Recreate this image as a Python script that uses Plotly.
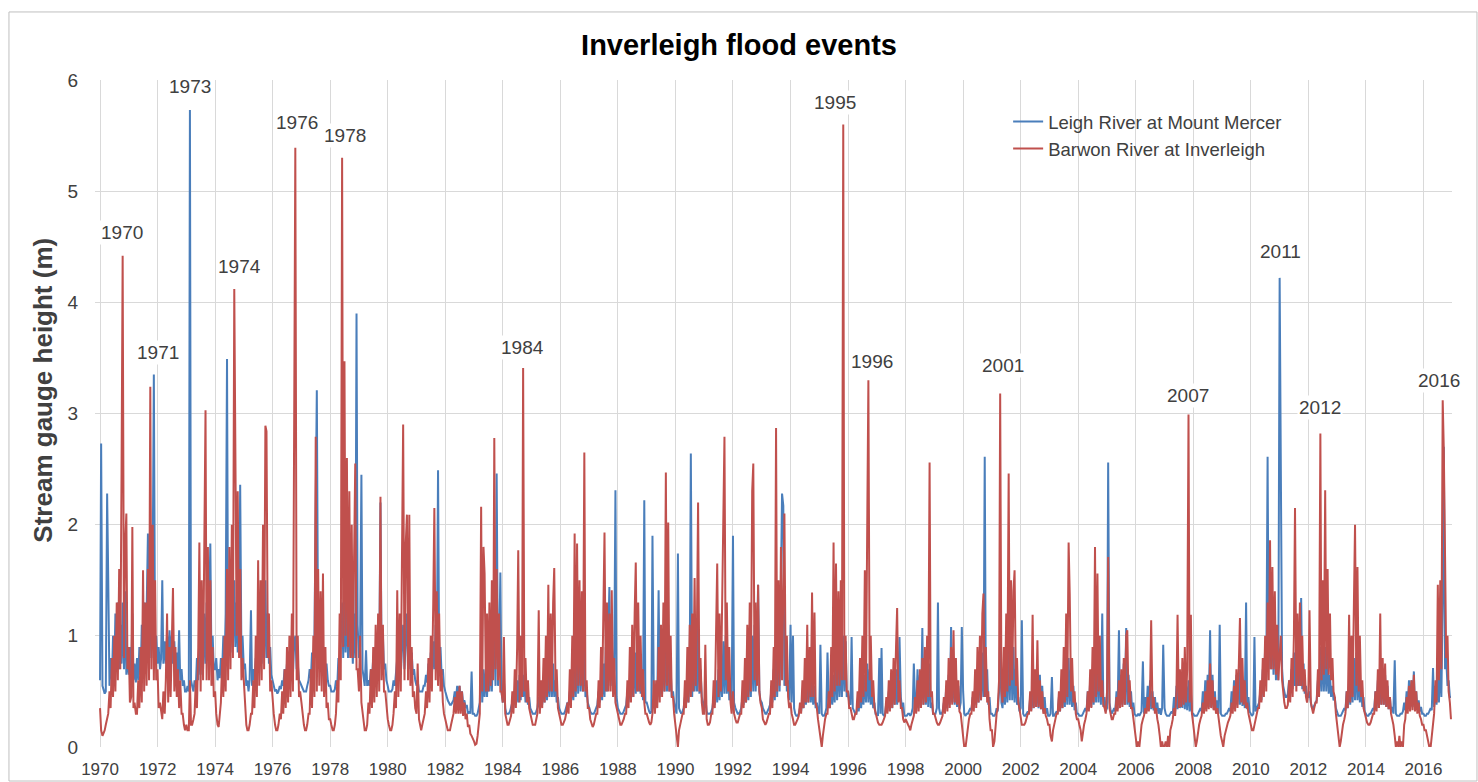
import pandas as pd
import plotly.graph_objects as go

# ---- Leigh River at Mount Mercer (m), 24 half-monthly readings per year ----
leigh_1970s = [
    [0.6, 2.73, 0.55, 0.5, 0.48, 0.5, 2.28, 1.52, 0.55, 0.8, 0.6, 1.0, 0.65, 1.2, 0.7, 1.3, 0.7, 1.1, 0.75, 1.3, 0.7, 1.4, 0.65, 0.8],
    [0.65, 0.9, 0.6, 1.2, 0.6, 0.75, 0.58, 0.8, 0.6, 0.9, 0.65, 1.1, 0.7, 1.3, 0.75, 1.2, 1.92, 0.8, 1.6, 0.8, 1.7, 3.35, 0.8, 1.0],
    [0.75, 0.9, 0.7, 0.8, 1.5, 0.75, 0.95, 0.75, 1.0, 0.8, 1.05, 0.8, 1.0, 0.75, 0.95, 0.7, 0.85, 0.65, 1.05, 0.6, 0.7, 0.55, 0.6, 0.5],
    [0.5, 0.55, 0.5, 5.73, 0.6, 0.55, 0.5, 0.6, 0.55, 0.8, 0.6, 1.0, 0.65, 1.1, 0.7, 1.2, 0.75, 1.3, 0.8, 1.1, 1.83, 0.8, 1.0, 0.7],
    [0.7, 0.8, 0.6, 0.7, 0.62, 0.8, 0.7, 1.0, 0.75, 1.2, 3.49, 0.8, 1.3, 0.85, 1.4, 0.9, 1.5, 0.9, 1.3, 0.85, 1.2, 2.36, 0.8, 1.0],
    [0.7, 0.75, 0.55, 0.6, 0.5, 0.6, 1.23, 0.55, 0.7, 0.6, 0.8, 0.65, 0.9, 0.7, 1.0, 0.75, 1.1, 0.8, 1.5, 0.8, 1.2, 0.75, 0.9, 0.65],
    [0.6, 0.55, 0.5, 0.52, 0.48, 0.5, 0.55, 0.52, 0.6, 0.55, 0.7, 0.58, 0.75, 0.6, 0.8, 0.62, 0.85, 0.65, 0.95, 1.0, 0.7, 0.75, 0.6, 0.58],
    [0.55, 0.52, 0.5, 0.5, 0.5, 0.55, 0.6, 0.7, 0.62, 0.85, 0.65, 1.0, 2.6, 3.21, 0.8, 1.1, 0.75, 1.0, 0.8, 0.9, 0.7, 0.75, 0.6, 0.55],
    [0.55, 0.5, 0.5, 0.5, 0.52, 0.6, 0.55, 0.8, 0.65, 1.0, 1.3, 0.8, 1.4, 0.85, 1.3, 0.8, 1.2, 0.8, 1.1, 0.75, 1.2, 0.8, 3.9, 1.1],
    [0.8, 0.9, 2.45, 0.7, 0.6, 0.55, 0.87, 0.55, 0.6, 0.55, 0.7, 0.6, 0.8, 0.62, 0.9, 0.65, 1.0, 0.7, 2.2, 0.75, 1.0, 0.7, 0.75, 0.6],
]
leigh_1980s = [
    [0.55, 0.5, 0.5, 0.5, 0.52, 0.6, 0.55, 0.7, 0.8, 0.6, 0.9, 0.65, 1.0, 1.1, 0.7, 1.0, 1.2, 0.7, 1.0, 0.7, 0.85, 0.65, 0.7, 0.6],
    [0.55, 0.6, 0.5, 0.5, 0.5, 0.5, 0.55, 0.55, 0.65, 0.58, 0.75, 0.6, 0.85, 0.65, 0.95, 0.7, 1.1, 0.75, 2.49, 0.8, 0.9, 0.65, 0.7, 0.55],
    [0.5, 0.45, 0.42, 0.4, 0.38, 0.38, 0.4, 0.42, 0.5, 0.42, 0.55, 0.45, 0.55, 0.42, 0.5, 0.4, 0.42, 0.35, 0.38, 0.3, 0.32, 0.3, 0.68, 0.3],
    [0.3, 0.28, 0.28, 0.3, 0.35, 0.4, 0.9, 0.4, 0.7, 0.45, 0.7, 0.45, 0.8, 0.5, 0.85, 0.5, 0.9, 1.0, 0.55, 2.46, 0.55, 0.8, 1.57, 0.5],
    [0.4, 0.6, 0.35, 0.3, 0.3, 0.3, 0.32, 0.35, 0.4, 0.35, 0.5, 0.38, 0.6, 0.4, 0.65, 0.42, 0.7, 0.45, 0.65, 0.4, 0.55, 0.38, 0.45, 0.35],
    [0.32, 0.3, 0.3, 0.3, 0.32, 0.35, 0.45, 0.35, 0.5, 0.38, 0.6, 0.4, 0.7, 0.42, 0.75, 0.45, 0.8, 0.45, 0.75, 0.45, 0.6, 0.4, 0.45, 0.35],
    [0.32, 0.3, 0.3, 0.3, 0.32, 0.35, 0.4, 0.38, 0.5, 0.4, 0.6, 0.42, 0.8, 0.45, 0.85, 0.48, 1.0, 0.5, 0.9, 0.5, 0.9, 0.45, 0.5, 0.4],
    [0.35, 0.32, 0.3, 0.3, 0.3, 0.32, 0.35, 0.38, 0.5, 0.4, 0.6, 0.42, 0.75, 0.45, 0.9, 0.5, 1.0, 1.44, 0.55, 1.0, 0.5, 0.7, 2.31, 0.45],
    [0.35, 0.32, 0.3, 0.3, 0.3, 0.32, 0.35, 0.38, 0.5, 0.4, 0.6, 0.42, 0.7, 0.45, 0.85, 0.48, 1.0, 0.5, 0.9, 0.48, 0.7, 0.42, 2.22, 0.4],
    [0.4, 0.35, 0.32, 0.3, 0.32, 1.9, 0.45, 0.4, 0.55, 0.42, 1.41, 0.45, 0.75, 0.48, 0.9, 0.5, 1.0, 0.5, 1.1, 0.5, 0.7, 0.45, 0.5, 0.4],
]
leigh_1990s = [
    [0.35, 0.3, 1.74, 0.35, 0.32, 0.3, 0.32, 0.35, 0.45, 0.38, 0.55, 0.4, 0.7, 2.64, 0.45, 0.9, 0.5, 1.0, 0.5, 1.1, 0.48, 0.7, 0.45, 0.4],
    [0.35, 0.45, 0.32, 0.3, 0.3, 0.3, 0.32, 0.35, 0.45, 0.38, 0.6, 0.4, 0.7, 0.42, 0.8, 0.45, 0.95, 0.48, 1.0, 0.48, 0.75, 0.42, 0.5, 0.38],
    [1.9, 0.4, 0.35, 0.32, 0.3, 0.3, 0.32, 0.35, 0.45, 0.38, 0.55, 0.4, 0.7, 0.42, 0.85, 0.45, 1.0, 0.5, 1.1, 0.5, 0.9, 1.46, 0.5, 0.42],
    [0.4, 0.35, 0.32, 0.3, 0.3, 0.32, 0.35, 0.38, 0.5, 0.4, 0.7, 0.42, 1.0, 0.45, 1.1, 0.5, 1.3, 2.28, 2.17, 0.55, 0.9, 0.5, 0.6, 0.42],
    [1.1, 0.4, 1.0, 0.35, 0.3, 0.28, 0.28, 0.3, 0.35, 0.32, 0.45, 0.35, 0.55, 0.38, 0.65, 0.4, 0.7, 0.4, 0.65, 0.38, 0.55, 0.35, 0.4, 0.32],
    [0.3, 0.92, 0.3, 0.28, 0.28, 0.3, 0.35, 0.85, 0.4, 0.35, 0.55, 0.38, 0.65, 0.4, 0.8, 0.42, 0.85, 0.45, 0.9, 0.45, 1.0, 0.5, 0.95, 0.45],
    [0.5, 0.4, 0.38, 0.99, 0.35, 0.32, 0.3, 0.3, 0.38, 0.32, 0.45, 0.35, 0.55, 0.38, 0.65, 0.4, 0.75, 0.4, 0.7, 0.38, 0.5, 0.35, 0.4, 0.3],
    [0.3, 0.28, 0.8, 0.3, 0.89, 0.3, 0.28, 0.3, 0.4, 0.32, 0.5, 0.35, 0.6, 0.35, 0.65, 0.38, 0.7, 0.38, 0.6, 0.99, 0.45, 0.35, 0.4, 0.28],
    [0.28, 0.28, 0.3, 0.3, 0.28, 0.3, 0.35, 0.75, 0.4, 0.32, 0.7, 0.35, 0.65, 0.38, 1.07, 0.38, 0.8, 0.38, 0.7, 0.36, 0.75, 0.35, 0.4, 0.3],
    [0.3, 0.3, 0.35, 1.3, 0.35, 0.3, 0.3, 0.32, 0.4, 0.32, 0.55, 0.35, 0.65, 0.38, 1.08, 0.4, 0.7, 0.38, 0.65, 0.36, 0.55, 0.34, 0.4, 1.08],
]
leigh_2000s = [
    [0.5, 0.3, 0.28, 0.3, 0.3, 0.32, 0.35, 0.33, 0.45, 0.35, 0.55, 0.38, 0.7, 0.4, 0.78, 0.42, 0.85, 0.45, 2.61, 0.45, 0.7, 0.38, 0.45, 0.3],
    [0.3, 0.28, 0.28, 0.3, 0.35, 0.32, 0.5, 1.0, 0.4, 0.35, 0.6, 0.38, 0.75, 0.4, 0.9, 0.42, 1.0, 0.42, 0.9, 0.4, 0.7, 0.38, 0.45, 0.32],
    [0.35, 1.14, 0.3, 0.28, 0.28, 0.3, 0.32, 0.3, 0.45, 0.33, 0.55, 0.35, 0.65, 0.36, 0.6, 0.35, 0.65, 0.34, 0.55, 0.32, 0.45, 0.3, 0.35, 0.28],
    [0.28, 0.3, 0.63, 0.28, 0.28, 0.3, 0.32, 0.3, 0.45, 0.32, 0.55, 0.35, 0.65, 0.36, 0.7, 0.38, 0.8, 0.38, 0.7, 0.36, 0.55, 0.33, 0.4, 0.3],
    [0.3, 0.28, 0.28, 0.28, 0.3, 0.32, 0.35, 0.32, 0.5, 0.34, 0.6, 0.36, 0.7, 0.38, 0.8, 0.4, 0.85, 0.4, 0.9, 0.38, 1.2, 0.36, 0.45, 0.32],
    [0.35, 2.56, 0.4, 0.33, 0.3, 0.32, 0.35, 0.32, 0.5, 0.34, 1.05, 0.36, 0.65, 0.38, 0.75, 0.38, 1.07, 0.38, 0.65, 0.36, 0.5, 0.34, 0.4, 0.3],
    [0.28, 0.28, 0.3, 0.28, 0.3, 0.32, 0.77, 0.3, 0.45, 0.32, 0.55, 0.33, 0.6, 0.34, 0.5, 0.33, 0.45, 0.32, 0.4, 0.3, 0.35, 0.29, 0.35, 0.92],
    [0.35, 0.3, 0.28, 0.28, 0.28, 0.3, 0.32, 0.3, 0.45, 0.32, 0.55, 0.34, 0.65, 0.35, 0.65, 0.35, 0.7, 0.34, 0.55, 0.33, 0.6, 0.32, 0.5, 0.3],
    [0.3, 0.28, 0.28, 0.28, 0.3, 0.32, 0.35, 0.32, 0.5, 0.34, 0.6, 0.35, 0.65, 0.36, 1.05, 0.36, 0.65, 0.34, 0.5, 0.32, 0.42, 0.3, 1.1, 0.3],
    [0.28, 0.28, 0.28, 0.3, 0.3, 0.32, 0.35, 0.32, 0.5, 0.34, 0.6, 0.36, 0.65, 0.38, 0.7, 0.38, 0.75, 0.37, 0.6, 0.35, 1.3, 0.34, 0.45, 0.32],
]
leigh_2010s = [
    [0.3, 0.28, 0.3, 0.99, 0.32, 0.35, 0.38, 0.4, 0.5, 0.42, 0.7, 0.5, 0.9, 0.6, 2.61, 0.7, 1.4, 0.7, 1.3, 0.65, 1.2, 0.6, 1.0, 0.6],
    [4.22, 2.0, 0.7, 0.55, 0.5, 0.45, 0.45, 0.48, 0.6, 0.5, 0.7, 0.52, 0.85, 0.55, 1.0, 0.55, 1.1, 0.55, 1.34, 0.52, 0.75, 0.48, 0.55, 0.45],
    [0.45, 0.5, 0.4, 0.35, 0.35, 0.38, 0.4, 0.42, 0.6, 0.45, 0.9, 0.5, 1.0, 0.5, 0.9, 0.5, 0.85, 0.48, 0.65, 0.45, 0.55, 0.42, 0.45, 0.35],
    [0.3, 0.28, 0.28, 0.28, 0.3, 0.32, 0.35, 0.33, 0.5, 0.35, 0.6, 0.38, 0.7, 0.4, 0.8, 0.42, 0.85, 0.42, 0.7, 0.4, 0.55, 0.36, 0.45, 0.32],
    [0.3, 0.28, 0.28, 0.3, 0.3, 0.32, 0.35, 0.33, 0.5, 0.35, 0.6, 0.37, 0.6, 0.38, 0.7, 0.38, 0.65, 0.36, 0.55, 0.34, 0.45, 0.32, 0.36, 0.3],
    [0.78, 0.3, 0.28, 0.28, 0.28, 0.3, 0.3, 0.32, 0.4, 0.33, 0.5, 0.35, 0.6, 0.36, 0.6, 0.36, 0.68, 0.35, 0.5, 0.34, 0.42, 0.32, 0.36, 0.3],
    [0.3, 0.28, 0.28, 0.3, 0.3, 0.32, 0.35, 0.33, 0.71, 0.36, 0.55, 0.38, 0.65, 0.4, 0.8, 0.45, 1.3, 2.7, 0.7, 0.8, 0.55, 0.6, 0.45, 0.45],
]

# ---- Barwon River at Inverleigh (m), 24 half-monthly readings per year ----
barwon_1970s = [
    [0.35, 0.15, 0.1, 0.12, 0.15, 0.2, 0.25, 0.3, 0.5, 0.35, 0.8, 0.45, 1.0, 0.5, 1.3, 0.6, 1.6, 0.7, 2.47, 4.42, 0.8, 1.8, 2.1, 0.7],
    [0.9, 0.4, 0.45, 1.98, 0.35, 0.4, 0.3, 0.3, 0.6, 0.35, 0.9, 0.4, 1.59, 0.5, 1.3, 0.55, 1.6, 0.6, 3.24, 0.7, 2.0, 0.6, 1.5, 0.6],
    [0.7, 0.35, 0.4, 0.3, 0.25, 0.5, 0.3, 0.6, 1.2, 0.4, 0.9, 0.45, 1.0, 1.43, 0.5, 0.9, 0.45, 0.7, 0.35, 0.6, 0.3, 0.3, 0.2, 0.15],
    [0.2, 0.15, 0.15, 0.6, 0.2, 0.2, 0.25, 0.3, 0.6, 0.35, 0.9, 1.84, 0.5, 1.5, 0.6, 1.7, 3.03, 0.6, 1.8, 0.6, 1.5, 0.55, 0.9, 0.45],
    [0.5, 0.3, 0.2, 0.18, 0.3, 0.4, 0.8, 0.45, 1.0, 0.5, 1.6, 0.6, 1.8, 0.7, 2.0, 0.8, 4.12, 2.28, 1.0, 2.3, 0.8, 1.6, 0.6, 0.8],
    [0.6, 0.35, 0.2, 0.15, 0.15, 0.2, 0.3, 0.3, 0.6, 0.35, 1.0, 0.45, 1.68, 0.55, 1.5, 0.6, 2.0, 0.7, 2.89, 2.84, 0.8, 1.2, 0.5, 0.6],
    [0.4, 0.3, 0.2, 0.15, 0.15, 0.2, 0.3, 0.25, 0.5, 0.3, 0.7, 0.35, 0.9, 0.4, 1.0, 0.45, 1.2, 0.5, 3.0, 5.39, 0.6, 1.0, 0.45, 0.5],
    [0.4, 0.3, 0.2, 0.15, 0.15, 0.2, 0.3, 0.3, 0.7, 0.35, 1.0, 0.45, 2.79, 0.5, 1.6, 0.55, 1.4, 0.5, 1.56, 0.45, 0.9, 0.35, 0.4, 0.25],
    [0.25, 0.2, 0.15, 0.15, 0.2, 0.3, 0.6, 0.4, 1.2, 0.6, 5.30, 0.9, 3.47, 1.0, 2.6, 0.9, 2.3, 0.8, 2.0, 0.8, 1.8, 2.55, 0.7, 0.7],
    [0.5, 1.0, 0.4, 0.3, 0.2, 0.15, 0.15, 0.2, 0.4, 0.3, 0.7, 0.35, 0.9, 0.4, 1.1, 0.45, 1.2, 0.5, 2.25, 0.6, 1.1, 0.5, 0.5, 0.35],
]
barwon_1980s = [
    [0.25, 0.2, 0.15, 0.15, 0.2, 0.3, 0.5, 0.35, 1.41, 0.45, 1.2, 0.5, 1.5, 2.9, 0.6, 1.8, 2.09, 0.6, 2.09, 0.55, 0.9, 0.45, 0.5, 0.35],
    [0.3, 0.75, 0.25, 0.2, 0.15, 0.2, 0.25, 0.3, 0.5, 0.35, 0.8, 0.4, 1.0, 0.5, 1.3, 2.15, 0.6, 1.4, 0.55, 1.2, 0.5, 0.7, 0.4, 0.3],
    [0.25, 0.2, 0.15, 0.15, 0.15, 0.2, 0.25, 0.3, 0.45, 0.3, 0.5, 0.3, 0.55, 0.3, 0.5, 0.28, 0.4, 0.25, 0.3, 0.18, 0.2, 0.12, 0.1, 0.08],
    [0.05, 0.02, 0.03, 0.1, 0.2, 0.3, 2.16, 0.5, 1.8, 1.56, 0.5, 1.2, 0.5, 1.3, 0.55, 1.5, 0.6, 2.78, 0.7, 1.6, 0.6, 1.2, 0.5, 0.5],
    [0.4, 0.99, 0.3, 0.25, 0.2, 0.2, 0.25, 0.28, 0.5, 0.3, 0.7, 0.35, 0.9, 1.77, 0.4, 1.0, 0.45, 3.41, 0.5, 0.8, 0.4, 0.6, 0.35, 0.3],
    [0.25, 0.2, 0.2, 0.2, 0.25, 0.3, 1.23, 0.3, 0.6, 0.35, 0.8, 0.4, 1.0, 0.45, 1.46, 0.5, 1.2, 0.5, 1.3, 1.61, 0.5, 0.7, 0.35, 0.3],
    [0.25, 0.2, 0.2, 0.22, 0.25, 0.3, 0.4, 0.3, 0.7, 0.35, 1.0, 0.45, 1.92, 0.5, 1.83, 0.55, 1.5, 0.55, 1.4, 0.5, 2.65, 0.5, 0.6, 0.35],
    [0.35, 0.25, 0.2, 0.18, 0.2, 0.25, 0.3, 0.3, 0.6, 0.35, 0.9, 0.45, 1.35, 1.93, 0.5, 1.3, 0.5, 1.2, 0.5, 1.41, 0.45, 0.8, 0.4, 0.35],
    [0.3, 0.25, 0.2, 0.2, 0.22, 0.25, 0.3, 0.3, 0.6, 0.35, 0.9, 0.4, 1.1, 0.45, 1.2, 1.66, 0.5, 1.3, 0.5, 1.0, 0.45, 0.7, 0.4, 0.3],
    [0.3, 0.25, 0.22, 0.2, 0.22, 0.3, 0.6, 0.3, 0.6, 0.35, 0.9, 0.4, 1.1, 0.45, 1.3, 0.5, 2.47, 0.55, 2.02, 0.5, 1.0, 0.45, 0.45, 0.3],
]
barwon_1990s = [
    [0.2, 0.1, 0.0, 0.15, 0.2, 0.25, 0.3, 0.3, 0.6, 0.35, 0.9, 0.4, 1.1, 0.45, 1.2, 0.5, 1.52, 0.55, 1.1, 2.2, 0.5, 0.8, 0.4, 0.3],
    [0.3, 0.92, 0.25, 0.2, 0.2, 0.22, 0.3, 0.3, 0.6, 0.35, 0.9, 1.65, 0.45, 1.2, 0.5, 1.4, 2.13, 2.79, 0.6, 1.3, 0.5, 0.9, 0.4, 0.3],
    [0.5, 0.3, 0.25, 0.22, 0.22, 0.25, 0.3, 0.3, 0.6, 0.35, 0.8, 0.4, 1.1, 0.45, 1.3, 0.5, 2.3, 2.55, 0.6, 1.3, 0.55, 1.46, 0.5, 0.4],
    [0.35, 0.25, 0.22, 0.2, 0.22, 0.25, 0.3, 0.3, 0.6, 0.35, 0.9, 0.45, 2.87, 0.5, 1.5, 0.55, 1.8, 0.6, 1.6, 2.1, 0.55, 1.0, 0.45, 0.35],
    [0.4, 0.3, 0.25, 0.2, 0.2, 0.22, 0.25, 0.28, 0.4, 0.3, 0.6, 0.35, 0.8, 0.4, 1.1, 0.4, 0.9, 0.45, 1.39, 0.45, 1.21, 0.4, 0.35, 0.25],
    [0.15, 0.05, 0.0, 0.1, 0.2, 0.25, 0.3, 0.3, 0.5, 0.35, 0.9, 0.45, 1.84, 0.5, 1.65, 0.55, 1.4, 0.55, 1.5, 0.6, 5.6, 0.6, 1.0, 0.5],
    [0.5, 0.35, 0.35, 0.3, 0.25, 0.25, 0.3, 0.3, 0.5, 0.35, 0.8, 0.4, 1.0, 0.45, 1.59, 0.5, 2.25, 3.3, 0.6, 1.0, 0.45, 0.6, 0.35, 0.3],
    [0.25, 0.22, 0.2, 0.2, 0.2, 0.22, 0.25, 0.28, 0.45, 0.3, 0.6, 0.32, 0.7, 0.35, 0.8, 0.38, 0.9, 1.25, 0.4, 0.6, 0.35, 0.35, 0.25, 0.22],
    [0.25, 0.22, 0.2, 0.18, 0.15, 0.2, 0.25, 0.28, 0.45, 0.3, 0.6, 0.32, 0.7, 0.35, 0.8, 0.38, 0.9, 0.4, 1.0, 0.45, 2.56, 0.45, 0.5, 0.3],
    [0.3, 0.25, 0.22, 0.2, 0.2, 0.22, 0.25, 0.28, 0.45, 0.3, 0.6, 0.32, 0.8, 0.35, 0.9, 0.38, 1.05, 0.4, 0.8, 0.38, 0.6, 0.32, 0.3, 0.2],
]
barwon_2000s = [
    [0.1, 0.0, 0.0, 0.1, 0.2, 0.25, 0.3, 0.3, 0.5, 0.32, 0.7, 0.35, 0.9, 0.4, 1.0, 0.42, 1.2, 1.38, 0.45, 0.9, 0.4, 0.5, 0.25, 0.15],
    [0.15, 0.0, 0.05, 0.2, 0.3, 0.35, 0.6, 3.18, 0.5, 0.4, 0.9, 0.45, 1.2, 0.5, 2.46, 0.55, 1.5, 0.6, 1.4, 1.59, 0.55, 0.8, 0.4, 0.35],
    [0.25, 0.2, 0.2, 0.2, 0.22, 0.25, 0.3, 0.3, 0.5, 0.32, 1.19, 0.35, 0.7, 0.36, 0.96, 0.36, 0.6, 0.34, 0.5, 0.3, 0.35, 0.28, 0.25, 0.2],
    [0.2, 0.1, 0.05, 0.15, 0.2, 0.25, 0.3, 0.3, 0.5, 0.32, 0.7, 0.35, 0.9, 0.4, 1.2, 0.45, 1.84, 1.38, 0.5, 0.8, 0.4, 0.5, 0.3, 0.25],
    [0.25, 0.2, 0.15, 0.05, 0.15, 0.2, 0.25, 0.3, 0.5, 0.32, 0.7, 0.35, 0.9, 0.4, 1.8, 0.45, 1.56, 0.5, 1.0, 0.45, 0.6, 0.38, 0.35, 0.3],
    [0.5, 1.71, 0.35, 0.3, 0.25, 0.25, 0.3, 0.3, 0.45, 0.32, 0.6, 0.35, 0.7, 0.36, 0.8, 0.38, 1.0, 1.05, 0.4, 0.6, 0.35, 0.35, 0.25, 0.2],
    [0.1, 0.0, 0.05, 0.0, 0.1, 0.2, 0.25, 0.28, 0.35, 0.3, 0.45, 0.32, 0.5, 1.14, 0.35, 0.45, 0.3, 0.35, 0.25, 0.2, 0.1, 0.0, 0.05, 0.0],
    [0.0, 0.05, 0.0, 0.1, 0.0, 0.15, 0.2, 0.25, 0.35, 0.28, 0.5, 1.19, 0.35, 0.7, 0.36, 0.8, 0.38, 0.9, 0.4, 0.7, 2.99, 0.4, 1.19, 0.3],
    [0.2, 0.1, 0.0, 0.05, 0.15, 0.2, 0.25, 0.28, 0.4, 0.3, 0.5, 0.32, 0.6, 0.34, 0.75, 0.35, 0.6, 0.33, 0.45, 0.3, 0.35, 0.25, 0.2, 0.1],
    [0.05, 0.0, 0.1, 0.15, 0.2, 0.22, 0.25, 0.28, 0.4, 0.3, 0.55, 0.32, 0.7, 0.35, 0.75, 1.16, 0.4, 0.8, 0.38, 0.6, 0.35, 0.4, 0.3, 0.25],
]
barwon_2010s = [
    [0.2, 0.15, 0.15, 0.2, 0.25, 0.3, 0.35, 0.35, 0.6, 0.4, 0.8, 0.45, 1.0, 0.5, 1.3, 0.6, 1.86, 0.7, 1.62, 0.7, 1.4, 0.65, 1.1, 0.6],
    [0.9, 1.0, 0.6, 0.45, 0.4, 0.35, 0.35, 0.38, 0.6, 0.4, 0.8, 0.45, 1.0, 2.15, 0.5, 1.2, 0.55, 1.3, 0.55, 1.0, 0.5, 0.7, 0.45, 0.4],
    [0.5, 1.23, 0.4, 0.35, 0.3, 0.35, 0.4, 0.4, 0.7, 0.45, 2.82, 0.6, 1.5, 0.65, 2.31, 0.7, 1.6, 0.65, 1.2, 0.6, 0.8, 0.5, 0.45, 0.3],
    [0.2, 0.1, 0.0, 0.05, 0.15, 0.2, 0.25, 0.3, 0.5, 0.35, 1.19, 0.4, 1.0, 0.45, 1.3, 2.0, 0.55, 1.62, 0.5, 1.0, 0.45, 0.6, 0.35, 0.3],
    [0.25, 0.22, 0.2, 0.2, 0.22, 0.25, 0.3, 0.3, 0.5, 0.32, 0.7, 0.35, 1.2, 0.38, 0.8, 0.38, 0.75, 0.36, 0.6, 0.34, 0.45, 0.3, 0.25, 0.2],
    [0.1, 0.0, 0.05, 0.0, 0.1, 0.0, 0.05, 0.0, 0.2, 0.25, 0.45, 0.3, 0.55, 0.32, 0.6, 0.33, 0.65, 0.32, 0.5, 0.3, 0.4, 0.28, 0.25, 0.2],
    [0.2, 0.15, 0.15, 0.1, 0.05, 0.0, 0.0, 0.1, 0.25, 0.3, 0.6, 0.4, 1.46, 0.6, 1.5, 0.7, 3.12, 2.67, 1.71, 0.8, 1.0, 0.5, 0.4, 0.25],
]

# ---- flood-year labels ----
flood_labels = ["1970", "1971", "1973", "1974", "1976", "1978", "1984",
                "1995", "1996", "2001", "2007", "2011", "2012", "2016"]
label_dates = ["1970-10-06", "1972-01-07", "1973-02-17", "1974-11-12", "1976-11-05",
               "1978-07-08", "1984-09-13", "1995-07-18", "1996-10-31", "2001-05-22",
               "2007-10-26", "2011-01-06", "2012-05-28", "2016-07-17"]
label_heights = [4.63, 3.55, 5.94, 4.32, 5.62, 5.50, 3.59, 5.80, 3.47, 3.43,
                 3.16, 4.46, 3.05, 3.30]


def flatten(rows):
    out = []
    for r in rows:
        assert len(r) == 24, (len(r), r)
        out.extend(r)
    return out


leigh = flatten(leigh_1970s + leigh_1980s + leigh_1990s + leigh_2000s + leigh_2010s)
barwon = flatten(barwon_1970s + barwon_1980s + barwon_1990s + barwon_2000s + barwon_2010s)
dates = pd.date_range("1970-01-01", periods=len(leigh), freq="SMS")

FONT = "Liberation Sans, Arial, sans-serif"
TXT = "#404040"

fig = go.Figure()
fig.add_trace(go.Scatter(x=dates, y=leigh, mode="lines", name="Leigh River at Mount Mercer",
                         line=dict(color="#4A7EBB", width=2)))
fig.add_trace(go.Scatter(x=dates, y=barwon, mode="lines", name="Barwon River at Inverleigh",
                         line=dict(color="#C0504D", width=2)))

for t, d, h in zip(flood_labels, label_dates, label_heights):
    fig.add_annotation(x=d, y=h, xref="x", yref="y", text=t, showarrow=False,
                       font=dict(family=FONT, size=19, color=TXT),
                       bgcolor="white", borderpad=1)

# y-axis title
fig.add_annotation(x=-0.0505, y=0.535, xref="paper", yref="paper",
                   text="<b>Stream gauge height (m)</b>", textangle=-90, showarrow=False,
                   font=dict(family=FONT, size=26, color=TXT))

# outer chart border
fig.add_shape(type="rect", xref="paper", yref="paper",
              x0=-0.0634, x1=1.0184, y0=-0.051, y1=1.102,
              line=dict(color="#bfbfbf", width=1), fillcolor="rgba(0,0,0,0)", layer="below")

fig.update_layout(
    width=1478, height=782,
    margin=dict(l=95, r=26, t=80, b=35, autoexpand=False),
    paper_bgcolor="white", plot_bgcolor="white",
    font=dict(family=FONT, color=TXT),
    title=dict(text="<b>Inverleigh flood events</b>", x=0.5, xref="container",
               y=1 - 45 / 782, yref="container", yanchor="middle", xanchor="center",
               font=dict(family=FONT, size=29, color="#000000")),
    legend=dict(x=0.6729, y=0.9655, xanchor="left", yanchor="top",
                font=dict(family=FONT, size=18.5, color=TXT),
                bgcolor="rgba(0,0,0,0)", itemwidth=30, tracegroupgap=0),
    showlegend=True,
)
fig.update_xaxes(type="date", range=["1969-10-29", "2016-12-28"],
                 tick0="1970-01-01", dtick="M24", tickformat="%Y",
                 showgrid=True, gridcolor="#d9d9d9", gridwidth=1,
                 showline=False, zeroline=False, automargin=False,
                 ticks="outside", ticklen=7, tickcolor="rgba(0,0,0,0)",
                 tickfont=dict(family=FONT, size=17, color=TXT))
fig.update_yaxes(range=[0, 6], dtick=1, showgrid=True, gridcolor="#d9d9d9", gridwidth=1,
                 showline=False, zeroline=False, automargin=False,
                 ticks="outside", ticklen=12, tickcolor="rgba(0,0,0,0)",
                 tickfont=dict(family=FONT, size=19, color=TXT))

fig.write_html("out.html", config={"displayModeBar": False},
               post_script="document.body.style.margin='0';")
